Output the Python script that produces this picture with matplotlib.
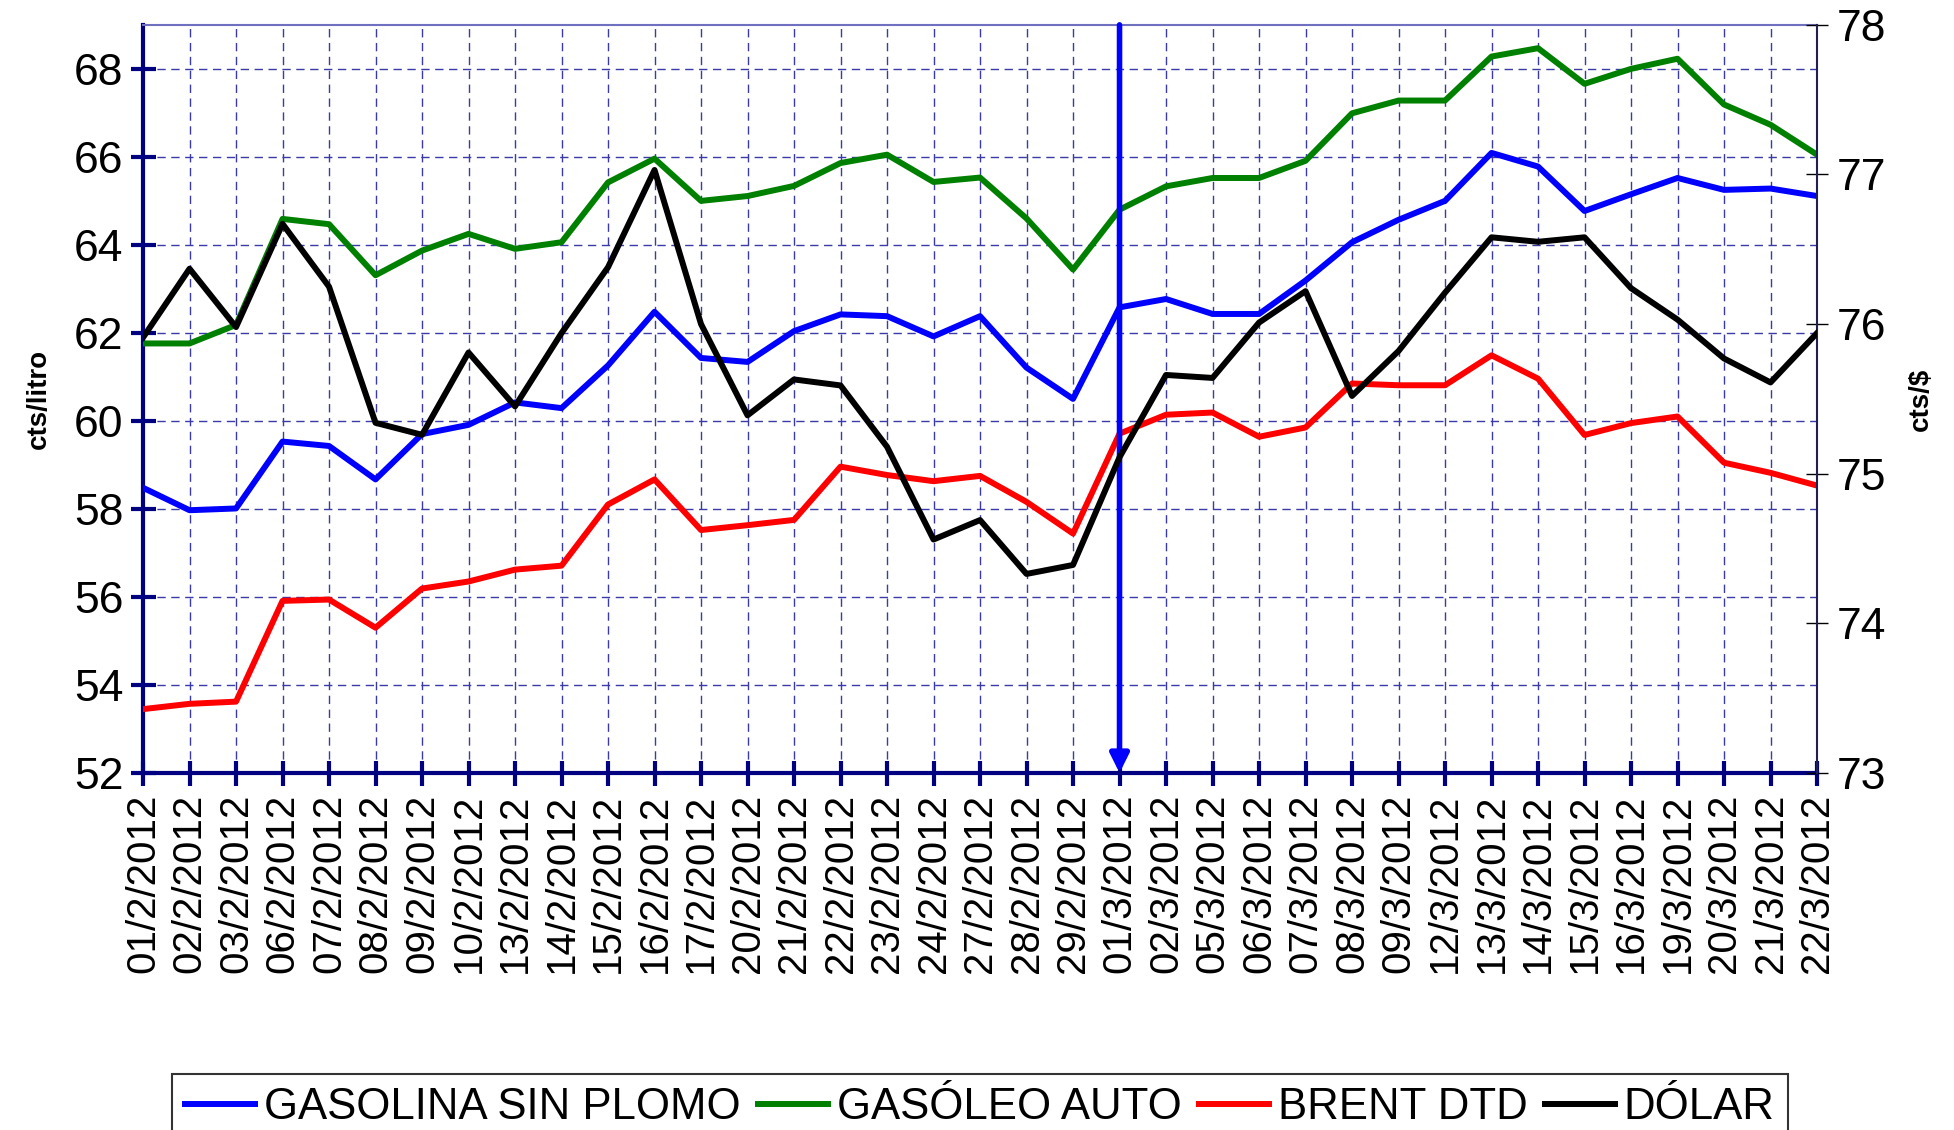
import matplotlib.pyplot as plt
import numpy as np

plt.rcParams['font.family'] = ['Liberation Sans', 'DejaVu Sans']

# fechas de cotizacion
dates = ['01/2/2012', '02/2/2012', '03/2/2012', '06/2/2012', '07/2/2012', '08/2/2012',
         '09/2/2012', '10/2/2012', '13/2/2012', '14/2/2012', '15/2/2012', '16/2/2012',
         '17/2/2012', '20/2/2012', '21/2/2012', '22/2/2012', '23/2/2012', '24/2/2012',
         '27/2/2012', '28/2/2012', '29/2/2012', '01/3/2012', '02/3/2012', '05/3/2012',
         '06/3/2012', '07/3/2012', '08/3/2012', '09/3/2012', '12/3/2012', '13/3/2012',
         '14/3/2012', '15/3/2012', '16/3/2012', '19/3/2012', '20/3/2012', '21/3/2012',
         '22/3/2012']

# cts/litro
gasolina = [58.48, 57.97, 58.01, 59.53, 59.43, 58.67, 59.70, 59.91, 60.42, 60.29,
            61.26, 62.48, 61.43, 61.34, 62.04, 62.42, 62.38, 61.92, 62.38, 61.21,
            60.50, 62.58, 62.77, 62.43, 62.43, 63.19, 64.06, 64.57, 65.00, 66.09,
            65.78, 64.77, 65.15, 65.52, 65.25, 65.28, 65.11]
gasoleo = [61.76, 61.76, 62.18, 64.59, 64.47, 63.31, 63.87, 64.25, 63.91, 64.06,
           65.42, 65.96, 65.00, 65.11, 65.34, 65.86, 66.05, 65.43, 65.53, 64.60,
           63.44, 64.80, 65.33, 65.52, 65.52, 65.91, 66.99, 67.28, 67.28, 68.28,
           68.47, 67.66, 68.00, 68.23, 67.19, 66.73, 66.05]
brent = [53.45, 53.57, 53.62, 55.91, 55.94, 55.30, 56.19, 56.35, 56.62, 56.71,
         58.10, 58.67, 57.52, 57.63, 57.75, 58.96, 58.77, 58.63, 58.75, 58.16,
         57.44, 59.71, 60.14, 60.19, 59.64, 59.85, 60.85, 60.81, 60.81, 61.49,
         60.96, 59.68, 59.95, 60.10, 59.05, 58.82, 58.53]

# cts/$
dolar = [75.91, 76.37, 75.98, 76.67, 76.25, 75.34, 75.26, 75.81, 75.45, 75.94,
         76.38, 77.03, 76.00, 75.39, 75.63, 75.59, 75.18, 74.56, 74.69, 74.33,
         74.39, 75.11, 75.66, 75.64, 76.01, 76.22, 75.52, 75.82, 76.21, 76.58,
         76.55, 76.58, 76.24, 76.03, 75.77, 75.61, 75.94]

marker_date = '01/3/2012'

navy = '#000080'
x = np.arange(len(dates))

fig = plt.figure(figsize=(19.54, 11.3), dpi=100)
ax = fig.add_axes([0.0732, 0.316, 0.8567, 0.662])
ax2 = ax.twinx()

lw = 4.3
l1, = ax.plot(x, gasolina, color='#0000ff', lw=lw, label='GASOLINA SIN PLOMO', zorder=3)
l2, = ax.plot(x, gasoleo, color='#008000', lw=lw, label='GASÓLEO AUTO', zorder=3)
l3, = ax.plot(x, brent, color='#ff0000', lw=lw, label='BRENT DTD', zorder=3)
l4, = ax2.plot(x, dolar, color='black', lw=lw, label='DÓLAR', zorder=3)

ax.set_xlim(0, len(dates) - 1)
ax.set_ylim(52, 69)
ax2.set_ylim(73, 78)
ax.set_yticks(range(52, 69, 2))
ax2.set_yticks(range(73, 79))

ax.set_xticks(x)
ax.set_xticklabels(dates, rotation=90, fontsize=29)
ax.tick_params(axis='y', labelsize=32, direction='inout', length=18, width=3, color=navy, pad=5)
ax.tick_params(axis='x', direction='inout', length=18, width=3, color=navy, pad=6)
ax2.tick_params(axis='y', labelsize=32, direction='inout', length=16, width=1, color='black', pad=6)

ax.grid(True, color='#3a3aa8', ls=(0, (6, 4)), lw=1.0)

ax.spines['left'].set_color(navy)
ax.spines['left'].set_linewidth(3)
ax.spines['bottom'].set_color(navy)
ax.spines['bottom'].set_linewidth(3)
ax.spines['top'].set_color('#7070c0')
ax.spines['top'].set_linewidth(1.5)
ax.spines['right'].set_visible(False)
for s in ['left', 'bottom', 'top']:
    ax2.spines[s].set_visible(False)
ax2.spines['right'].set_color('#202050')
ax2.spines['right'].set_linewidth(1.5)

ax.set_ylabel('cts/litro', fontsize=20, fontweight='bold', labelpad=16)
ax2.set_ylabel('cts/$', fontsize=20, fontweight='bold', labelpad=16)

# flecha vertical en el cambio de mes
xm = dates.index(marker_date)
ax.annotate('', xy=(xm, 52), xytext=(xm, 69),
            arrowprops=dict(arrowstyle='-|>', color='#0000ff', lw=4,
                            mutation_scale=28, shrinkA=0, shrinkB=0), zorder=4)

leg = fig.legend(handles=[l1, l2, l3, l4], loc='upper center',
                 bbox_to_anchor=(0.5015, 1 - 1074 / 1130), ncol=4, fontsize=31.5,
                 frameon=True, fancybox=False, edgecolor='black', handlelength=1.6,
                 handletextpad=0.2, columnspacing=0.4, borderpad=0.3, borderaxespad=0)
leg.get_frame().set_linewidth(1.5)

fig.savefig('out.png', dpi=100)
